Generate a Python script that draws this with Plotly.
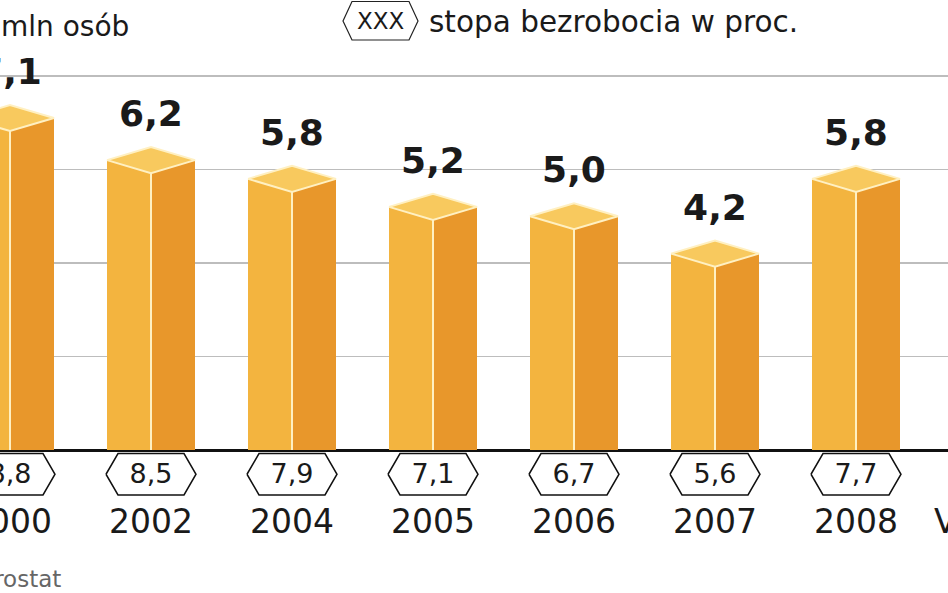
import plotly.graph_objects as go

# ---------------- data ----------------
categories = ["2000", "2002", "2004", "2005", "2006", "2007", "2008", "VI 2009"]
unemployed_mln = [7.1, 6.2, 5.8, 5.2, 5.0, 4.2, 5.8, None]
unemployment_rate = [8.8, 8.5, 7.9, 7.1, 6.7, 5.6, 7.7, None]
grid_values = [2, 4, 6, 8]

# ---------------- geometry / style ----------------
W, H = 948, 593
PX_X = 141.0        # pixels per category step
PX_Y = 46.75        # pixels per 1 mln
X0_PX = 10          # pixel position of first category
BASE_PX = 450       # pixel position of zero line

HALF_W = 44 / PX_X          # half bar width
TOP_D = 13 / PX_Y           # half height of top rhombus
HEX_HW = 45 / PX_X
HEX_TW = 33 / PX_X
HEX_TOP = -3.5 / PX_Y
HEX_BOT = -45 / PX_Y
HEX_MID = (HEX_TOP + HEX_BOT) / 2
YEAR_PX = 521
VAL_OFF = 43 / PX_Y

C_LEFT = "#F3B43F"
C_RIGHT = "#E8972B"
C_TOP = "#F8C95E"
C_EDGE = "#FFF0C2"
FONT = "DejaVu Sans"


def fmt(v):
    return f"{v:.1f}".replace(".", ",")


def px(x):
    return x / W


def py(y):
    return 1 - y / H


lx, ly, rx, ry, tx, ty, ex, ey = [], [], [], [], [], [], [], []
hx, hy = [], []
val_x, val_y, val_t = [], [], []
rate_x, rate_y, rate_t = [], [], []
for i, (v, r) in enumerate(zip(unemployed_mln, unemployment_rate)):
    c = i
    if v is not None:
        lx += [c - HALF_W, c - HALF_W, c, c, c - HALF_W, None]
        ly += [0, v, v - TOP_D, 0, 0, None]
        rx += [c, c, c + HALF_W, c + HALF_W, c, None]
        ry += [0, v - TOP_D, v, 0, 0, None]
        tx += [c - HALF_W, c, c + HALF_W, c, c - HALF_W, None]
        ty += [v, v - TOP_D, v, v + TOP_D, v, None]
        ex += [c, c, None, c - HALF_W, c, c + HALF_W, c, c - HALF_W, None]
        ey += [0, v - TOP_D, None, v, v - TOP_D, v, v + TOP_D, v, None]
        val_x.append(c)
        val_y.append(v + VAL_OFF)
        val_t.append(f"<b>{fmt(v)}</b>")
    if r is not None:
        hx += [c - HEX_HW, c - HEX_TW, c + HEX_TW, c + HEX_HW, c + HEX_TW, c - HEX_TW, c - HEX_HW, None]
        hy += [HEX_MID, HEX_TOP, HEX_TOP, HEX_MID, HEX_BOT, HEX_BOT, HEX_MID, None]
        rate_x.append(c)
        rate_y.append(HEX_MID - 1.5 / PX_Y)
        rate_t.append(fmt(r))

fig = go.Figure()
fig.add_trace(go.Scatter(x=lx, y=ly, mode="lines", fill="toself", fillcolor=C_LEFT,
                         line=dict(width=0, color=C_LEFT), hoverinfo="skip"))
fig.add_trace(go.Scatter(x=rx, y=ry, mode="lines", fill="toself", fillcolor=C_RIGHT,
                         line=dict(width=0, color=C_RIGHT), hoverinfo="skip"))
fig.add_trace(go.Scatter(x=tx, y=ty, mode="lines", fill="toself", fillcolor=C_TOP,
                         line=dict(width=0, color=C_TOP), hoverinfo="skip"))
fig.add_trace(go.Scatter(x=ex, y=ey, mode="lines", line=dict(width=2, color=C_EDGE),
                         hoverinfo="skip"))
fig.add_trace(go.Scatter(x=hx, y=hy, mode="lines", fill="toself", fillcolor="white",
                         line=dict(width=1.5, color="#111111"), hoverinfo="skip",
                         cliponaxis=False))
fig.add_trace(go.Scatter(x=val_x, y=val_y, mode="text", text=val_t,
                         textposition="middle center", cliponaxis=False,
                         textfont=dict(family=FONT, size=36, color="#1a1a1a"), hoverinfo="skip"))
fig.add_trace(go.Scatter(x=rate_x, y=rate_y, mode="text", text=rate_t,
                         textposition="middle center", cliponaxis=False,
                         textfont=dict(family=FONT, size=27, color="#1a1a1a"), hoverinfo="skip"))

# category (year) labels: paper-referenced so that labels of categories beyond
# the visible range are still drawn (and cut by the page edge)
year_annotations = [
    dict(x=px(X0_PX + i * PX_X), y=py(YEAR_PX), xref="paper", yref="paper", text=cat,
         showarrow=False, xanchor="center", yanchor="middle",
         font=dict(family=FONT, size=33, color="#1a1a1a"))
    for i, cat in enumerate(categories)
]

hex_path = "M {} {} L {} {} L {} {} L {} {} L {} {} L {} {} Z".format(
    px(343), py(21), px(352), py(1.5), px(409), py(1.5), px(418), py(21),
    px(409), py(40), px(352), py(40))

fig.update_layout(
    width=W, height=H, autosize=False,
    margin=dict(l=0, r=0, t=0, b=0),
    paper_bgcolor="white", plot_bgcolor="white",
    showlegend=False, hovermode=False,
    xaxis=dict(range=[-X0_PX / PX_X, (W - X0_PX) / PX_X], showgrid=False, zeroline=False,
               showticklabels=False, ticks="", fixedrange=True),
    yaxis=dict(range=[-(H - BASE_PX) / PX_Y, BASE_PX / PX_Y], tickvals=grid_values,
               showgrid=True, gridcolor="#BDBDBD", gridwidth=1.5,
               zeroline=True, zerolinecolor="#111111", zerolinewidth=3,
               showticklabels=False, ticks="", fixedrange=True),
    shapes=[dict(type="path", xref="paper", yref="paper", path=hex_path,
                 line=dict(color="#222222", width=1.2), fillcolor="white")],
    annotations=year_annotations + [
        dict(x=px(-1), y=py(27), xref="paper", yref="paper", text="mln osób",
             showarrow=False, xanchor="left", yanchor="middle",
             font=dict(family=FONT, size=28, color="#1a1a1a")),
        dict(x=px(380.5), y=py(21), xref="paper", yref="paper", text="XXX",
             showarrow=False, xanchor="center", yanchor="middle",
             font=dict(family=FONT, size=23, color="#1a1a1a")),
        dict(x=px(427), y=py(22), xref="paper", yref="paper", text="stopa bezrobocia w proc.",
             showarrow=False, xanchor="left", yanchor="middle",
             font=dict(family=FONT, size=29.5, color="#1a1a1a")),
        dict(x=px(63), y=py(578), xref="paper", yref="paper", text="Źródło: Eurostat",
             showarrow=False, xanchor="right", yanchor="middle",
             font=dict(family=FONT, size=23, color="#666666")),
    ],
)

fig.write_html("out.html", config={"displayModeBar": False, "staticPlot": True},
               post_script="document.body.style.margin='0';document.body.style.padding='0';")
